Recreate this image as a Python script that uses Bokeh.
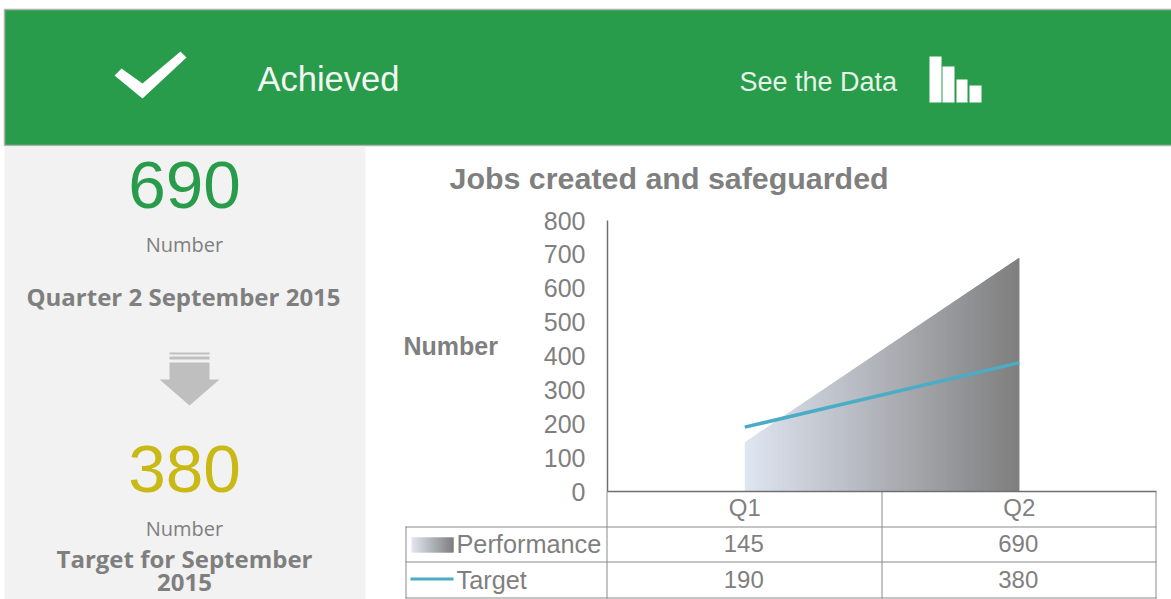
from bokeh.plotting import figure
from bokeh.models import Range1d, FactorRange, FixedTicker
from bokeh.core.properties import value
from bokeh.embed import file_html
from bokeh.resources import INLINE

quarters = ["Q1", "Q2"]
performance = [145, 690]
target = [190, 380]
y_ticks = [0, 100, 200, 300, 400, 500, 600, 700, 800]
chart_title = "Jobs created and safeguarded"
series_names = ["Performance", "Target"]

GREEN = "#289c4a"
GREY = "#7f7f7f"
TEAL = "#4bacc6"
GOLD = "#c8b914"
PANEL = "#f2f2f2"
ICON = "#bfbfbf"
RULE = "#8a8a8a"
GRAD_L = (223, 229, 241)
GRAD_R = (127, 127, 127)

W, H = 1171, 599
FL, FR, FT, FB = 607, 1156, 220, 491


def grad(t):
    r = [round(a + (b - a) * t) for a, b in zip(GRAD_L, GRAD_R)]
    return "#%02x%02x%02x" % tuple(r)


# ---- page layer: a full-size figure whose scale is the page itself
bg = figure(width=W, height=H, output_backend="svg", toolbar_location=None,
            x_range=Range1d(0, W), y_range=Range1d(H, 0),
            x_axis_location=None, y_axis_location=None,
            min_border_left=0, min_border_right=0, min_border_top=0, min_border_bottom=0,
            background_fill_color="white", border_fill_color="white", outline_line_color=None)
bg.styles = {"position": "absolute", "left": "0px", "top": "0px"}
bg.grid.visible = False

# ---- chart layer
p = figure(width=W, height=H, output_backend="svg", toolbar_location=None,
           x_range=FactorRange(factors=quarters, range_padding=0, factor_padding=0),
           y_range=Range1d(y_ticks[0], y_ticks[-1]),
           min_border_left=FL, min_border_right=W - FR, min_border_top=FT, min_border_bottom=H - FB,
           background_fill_color=None, border_fill_color=None, outline_line_color=None)
p.styles = {"position": "absolute", "left": "0px", "top": "0px"}
p.grid.visible = False

p.yaxis.ticker = FixedTicker(ticks=y_ticks)
for ax in (p.xaxis[0], p.yaxis[0]):
    ax.axis_line_color = "#6f6f6f"
    ax.axis_line_width = 1.5
    ax.major_tick_line_color = None
    ax.minor_tick_line_color = None
    ax.major_label_text_color = GREY
    ax.major_label_text_font = "Liberation Sans"
p.yaxis.major_label_text_font_size = "25px"
p.yaxis.major_label_standoff = 16
p.xaxis.major_label_text_font_size = "24px"
p.xaxis.major_label_standoff = -4


def box(l, r, t, b, color, line=None, lw=1):
    bg.quad(left=[l], right=[r], top=[t], bottom=[b], fill_color=color, line_color=line, line_width=lw)


def poly(pts, color):
    bg.patch([a for a, _ in pts], [b for _, b in pts], fill_color=color, line_color=None)


def text(x, y, s, size, color=GREY, bold=False, font="Liberation Sans", align="left"):
    bg.text([x], [y - 1], text=[s], text_font=value(font), text_font_size=f"{size}px",
            text_font_style="bold" if bold else "normal",
            text_color=color, text_align=align, text_baseline="middle")


# Header band and left panel
box(4, W + 2, 9, 145, GREEN, "#a9b5ab", 1.5)
box(4, 365, 146, H, PANEL)

# Performance area: one polygon, painted as thin strips for the gradient fill
N = 140
x0, x1 = 0.5, 1.5
v0, v1 = performance
xs, ys, cols = [], [], []
for i in range(N):
    a = x0 + (x1 - x0) * i / N
    b = x0 + (x1 - x0) * min(i + 2, N) / N
    va = v0 + (v1 - v0) * (a - x0) / (x1 - x0)
    vb = v0 + (v1 - v0) * (b - x0) / (x1 - x0)
    xs.append([a, b, b, a])
    ys.append([0, 0, vb, va])
    cols.append(grad(i / (N - 1)))
p.patches(xs, ys, fill_color=cols, line_color=None)

p.line(quarters, target, line_color=TEAL, line_width=3.5)

poly([(114, 75), (121, 68), (142, 83), (180, 51), (186, 57), (142, 98)], "white")
text(257, 79, "Achieved", 34.5, "#f2f7f3")
text(739, 82, "See the Data", 27, "#e6f3e9")
box(929, 941, 56, 102, "white")
box(942, 954, 66, 102, "white")
box(956, 967, 79, 102, "white")
box(969, 981, 85, 102, "white")

# Left panel text
text(184, 185, str(performance[1]), 67.5, GREEN, align="center")
text(184, 245, "Number", 20, GREY, font="Open Sans", align="center")
text(183, 297, "Quarter 2 September 2015", 24, GREY, True, "Open Sans", "center")
box(169, 209, 352, 354, ICON)
box(169, 209, 356, 359, ICON)
poly([(169, 362), (209, 362), (209, 379), (219, 379), (189, 405), (159, 379), (169, 379)], ICON)
text(184, 469, str(target[1]), 67.5, GOLD, align="center")
text(184, 529, "Number", 20, GREY, font="Open Sans", align="center")
text(184, 559, "Target for September", 24, GREY, True, "Open Sans", "center")
text(184, 583, "2015", 24, GREY, True, "Open Sans", "center")

# Chart labels
text(449, 178, chart_title, 30.4, GREY, True)
text(403, 346, "Number", 25, GREY, True)

# Data table
for y in (526, 561, 597):
    box(405, FR, y, y + 1, RULE)
box(405, 406, 526, 598, RULE)
box(606, 607, 491, 598, RULE)
box(881, 882, 491, 598, RULE)
box(FR - 1, FR, 491, 598, RULE)

M = 42
for i in range(M):
    box(411 + i, 412 + i + (1 if i < M - 1 else 0), 537, 552, grad(i / (M - 1)))
box(410, 453, 577, 580, TEAL)
text(456, 544, series_names[0], 25.3)
text(456, 580, series_names[1], 25.3)

col_w = (FR - FL) / len(quarters)
for row_y, row in ((544, performance), (580, target)):
    for i, v in enumerate(row):
        text(FL + (i + 0.5) * col_w - 1, row_y, str(v), 24, align="center")

open("out.html", "w").write(file_html([bg, p], INLINE))
